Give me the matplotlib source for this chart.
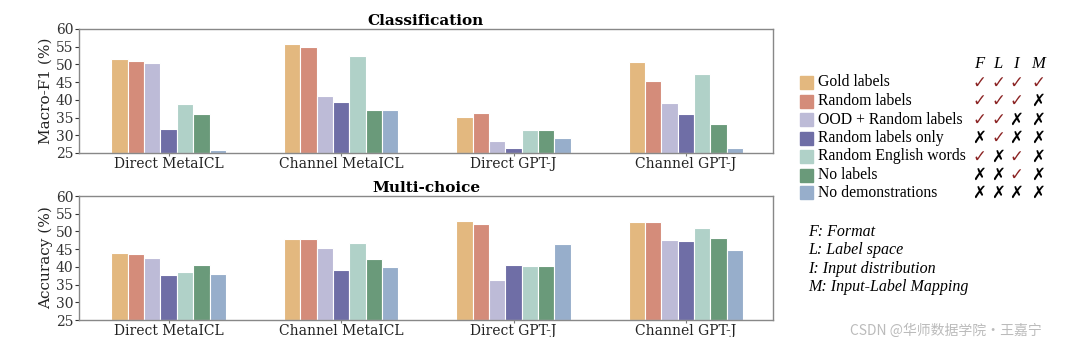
import matplotlib
matplotlib.use('Agg')
import matplotlib.pyplot as plt
import numpy as np

models = ['Direct MetaICL', 'Channel MetaICL', 'Direct GPT-J', 'Channel GPT-J']
settings = ['Gold labels', 'Random labels', 'OOD + Random labels', 'Random labels only',
            'Random English words', 'No labels', 'No demonstrations']
colors = ['#E3B87F', '#D48C7A', '#BDBBD7', '#6F6EA6', '#B0D1C8', '#6A9A7A', '#97AECB']

# rows = settings, cols = models
cls_f1 = [
    [51.5, 55.8, 35.2, 50.6],
    [51.0, 54.8, 36.4, 45.4],
    [50.4, 41.1, 28.5, 39.0],
    [31.7, 39.5, 26.5, 35.9],
    [38.8, 52.4, 31.5, 47.4],
    [35.9, 37.0, 31.5, 33.3],
    [25.8, 37.0, 29.3, 26.3],
]
mc_acc = [
    [43.9, 47.8, 53.0, 52.8],
    [43.6, 47.8, 52.1, 52.6],
    [42.6, 45.4, 36.4, 47.6],
    [37.7, 39.0, 40.6, 47.2],
    [38.5, 46.8, 40.3, 50.9],
    [40.4, 42.3, 40.3, 48.2],
    [37.9, 40.1, 46.4, 44.7],
]
flim_header = ['F', 'L', 'I', 'M']
flim = [
    [1, 1, 1, 1],
    [1, 1, 1, 0],
    [1, 1, 0, 0],
    [0, 1, 0, 0],
    [1, 0, 1, 0],
    [0, 0, 1, 0],
    [0, 0, 0, 0],
]
notes = ['F: Format', 'L: Label space', 'I: Input distribution', 'M: Input-Label Mapping']
yticks = [25, 30, 35, 40, 45, 50, 55, 60]

W, H = 1080, 337
fig = plt.figure(figsize=(W / 100, H / 100), dpi=100)
plt.rcParams['font.family'] = ['DejaVu Serif']


def px(x0, y0, x1, y1):
    return [x0 / W, 1 - y1 / H, (x1 - x0) / W, (y1 - y0) / H]


def draw_panel(ax, data, title, ylabel):
    x = np.arange(len(models))
    width = 0.095
    for i, vals in enumerate(data):
        off = (i - 3) * width
        ax.bar(x + off, np.array(vals) - 25, width, bottom=25, color=colors[i],
               edgecolor='white', linewidth=0.8)
    ax.set_xlim(-0.52, 3.505)
    ax.set_ylim(25, 60)
    ax.set_yticks(yticks)
    ax.set_xticks(x)
    ax.set_xticklabels(models, fontsize=10, color='#222222')
    ax.tick_params(axis='y', labelsize=10, colors='#333333', length=3, pad=1)
    ax.tick_params(axis='x', length=2.5, pad=0.5, color='#777777')
    ax.set_ylabel(ylabel, fontsize=11, labelpad=2, color='#222222')
    ax.set_title(title, fontsize=11, fontweight='bold', pad=3)
    for s in ax.spines.values():
        s.set_color('#888888')
        s.set_linewidth(1.0)


ax1 = fig.add_axes(px(79, 29, 773, 153))
draw_panel(ax1, cls_f1, 'Classification', 'Macro-F1 (%)')
ax2 = fig.add_axes(px(79, 196, 773, 320))
draw_panel(ax2, mc_acc, 'Multi-choice', 'Accuracy (%)')

# legend-like table on the right
row_y = [82.5, 101, 119.5, 138, 156.5, 175, 193]
col_x = [979, 998, 1016, 1038]
for i, name in enumerate(settings):
    y = row_y[i]
    fig.patches.append(plt.Rectangle((800 / W, 1 - (y + 6.5) / H), 13 / W, 13 / H,
                                     transform=fig.transFigure, color=colors[i]))
    fig.text(818 / W, 1 - y / H, name, fontsize=11.3, family='Liberation Serif',
             va='center', ha='left')
    for j, v in enumerate(flim[i]):
        fig.text(col_x[j] / W, 1 - y / H, '\u2713' if v else '\u2717',
                 fontsize=12, family='DejaVu Sans', style='oblique', fontweight='bold',
                 color='#8B2323' if v else 'black', va='center', ha='center')
for j, h in enumerate(flim_header):
    fig.text(col_x[j] / W, 1 - 64 / H, h, fontsize=12, family='Liberation Serif',
             style='italic', va='center', ha='center')

for k, t in enumerate(notes):
    fig.text(808 / W, 1 - (232 + 18.3 * k) / H, t, fontsize=11.5,
             family='Liberation Serif', style='italic', va='center', ha='left')

fig.text(850 / W, 1 - 331 / H, 'CSDN @华师数据学院·王嘉宁', fontsize=10,
         family=['Noto Sans CJK SC', 'DejaVu Sans'], color='#BBBBBB',
         va='center', ha='left')

fig.savefig('out.png', dpi=100)
